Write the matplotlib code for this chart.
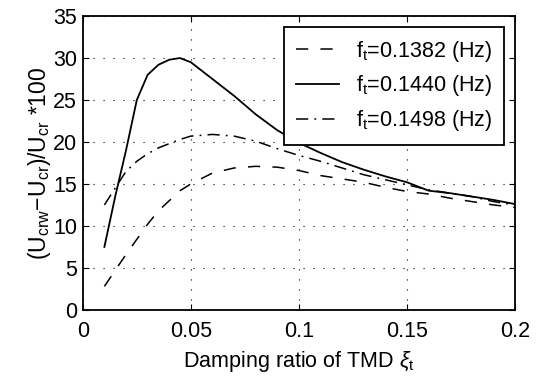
import matplotlib
matplotlib.use("Agg")
import matplotlib.pyplot as plt

plt.rcParams["font.family"] = ["Liberation Sans", "DejaVu Sans"]
plt.rcParams["mathtext.fontset"] = "custom"
plt.rcParams["mathtext.rm"] = "Liberation Sans"
plt.rcParams["mathtext.it"] = "Liberation Sans:italic"

# damping ratio of TMD
xi = [0.01, 0.015, 0.02, 0.025, 0.03, 0.035, 0.04, 0.045, 0.05,
      0.06, 0.07, 0.08, 0.09, 0.10, 0.11, 0.12, 0.13, 0.14, 0.15,
      0.16, 0.17, 0.18, 0.19, 0.20]

f_1382 = [2.8, 4.7, 6.6, 8.4, 10.2, 11.8, 13.0, 14.2, 15.0,
          16.3, 16.9, 17.1, 17.0, 16.6, 16.0, 15.6, 15.2, 14.6, 14.1,
          13.8, 13.3, 12.9, 12.5, 12.2]
f_1440 = [7.5, 13.5, 19.0, 25.0, 28.0, 29.2, 29.8, 30.0, 29.5,
          27.5, 25.5, 23.3, 21.4, 19.9, 18.7, 17.6, 16.7, 15.9, 15.2,
          14.2, 13.9, 13.5, 13.1, 12.6]
f_1498 = [12.5, 14.5, 16.5, 17.7, 18.6, 19.3, 19.8, 20.3, 20.7,
          20.9, 20.7, 20.1, 19.2, 18.4, 17.7, 16.9, 16.1, 15.5, 14.9,
          14.3, 13.9, 13.5, 12.9, 12.5]

labels = [r"f$_{\rm t}$=0.1382 (Hz)", r"f$_{\rm t}$=0.1440 (Hz)",
          r"f$_{\rm t}$=0.1498 (Hz)"]

fs = 15.5

fig = plt.figure(figsize=(5.41, 3.83), dpi=100)
ax = fig.add_axes([0.153, 0.191, 0.799, 0.767])

ax.plot(xi, f_1382, color="black", lw=1.1, dashes=(8, 8), label=labels[0])
ax.plot(xi, f_1440, color="black", lw=1.3, label=labels[1])
ax.plot(xi, f_1498, color="black", lw=1.1, dashes=(8, 4, 1.2, 4), label=labels[2])

ax.set_xlim(0, 0.2)
ax.set_ylim(0, 35)
ax.set_xticks([0, 0.05, 0.1, 0.15, 0.2])
ax.set_xticklabels(["0", "0.05", "0.1", "0.15", "0.2"])
ax.set_yticks(range(0, 36, 5))
ax.tick_params(direction="in", length=4, labelsize=fs, top=True, right=True)
ax.tick_params(axis="x", pad=8)
ax.tick_params(axis="y", pad=4)
ax.grid(True, color="black", linestyle=(0, (1, 8)), lw=0.8)
for s in ax.spines.values():
    s.set_linewidth(1.3)

ax.set_xlabel(r"Damping ratio of TMD $\xi_{\rm t}$", fontsize=fs, labelpad=5)
ax.set_ylabel(r"(U$_{\rm crw}$$-$U$_{\rm cr}$)/U$_{\rm cr}$ *100", fontsize=16.5, labelpad=0)

leg = ax.legend(loc="upper right", fontsize=fs, frameon=True, fancybox=False,
                edgecolor="black", framealpha=1, handlelength=2.0,
                borderaxespad=0.5, borderpad=0.55, labelspacing=0.45,
                handletextpad=0.8)
leg.get_frame().set_linewidth(1.3)

fig.savefig("out.png", dpi=100)
